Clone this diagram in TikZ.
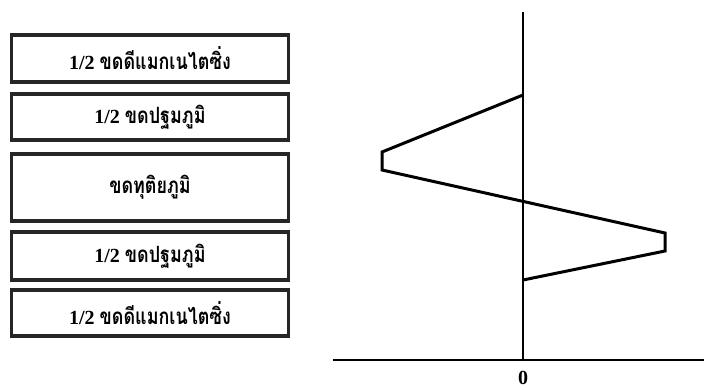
\documentclass[tikz,border=0pt]{standalone}
\usepackage{fontspec}
\setmainfont{Liberation Serif}
\newfontfamily\thaifont[Script=Thai,Scale=1.12,FakeStretch=0.8]{Loma}
\begin{document}
\begin{tikzpicture}[x=1pt,y=-1pt,
        layer/.style={draw=black!85, line width=3.8pt, minimum width=277pt,
            inner sep=0pt, font=\bfseries\fontsize{20}{22}\selectfont},
        axis/.style={line width=2.5pt},
        profile/.style={line width=3pt, line join=miter}]
    \useasboundingbox (0,0) rectangle (704,389);

    % Layers
    \node[layer, minimum height=47pt] (dia1) at (150,58.5) {1/2 {\thaifont ขดดีแมกเนไตซิ่ง}};
    \node[layer, minimum height=46.5pt] (pri1) at (150,117) {1/2 {\thaifont ขดปฐมภูมิ}};
    \node[layer, minimum height=67.5pt] (sec) at (150,187.5) {\thaifont ขดทุติยภูมิ};
    \node[layer, minimum height=48.5pt] (pri2) at (150,256) {1/2 {\thaifont ขดปฐมภูมิ}};
    \node[layer, minimum height=46.5pt] (dia2) at (150,313) {1/2 {\thaifont ขดดีแมกเนไตซิ่ง}};

    % Axes
    \coordinate (top) at (523,12);
    \coordinate (origin) at (523,360);
    \coordinate (left) at (333,360);
    \coordinate (right) at (704,360);
    \draw[axis] (top) -- (origin);
    \draw[axis] (left) -- (right);
    \node[font=\bfseries\fontsize{20}{22}\selectfont] (zero) at (523,378) {0};

    % MMF profile
    \draw[profile] (523,95) -- (382,152) -- (382,170) -- (665,233) -- (665,251) -- (523,280);
\end{tikzpicture}
\end{document}
